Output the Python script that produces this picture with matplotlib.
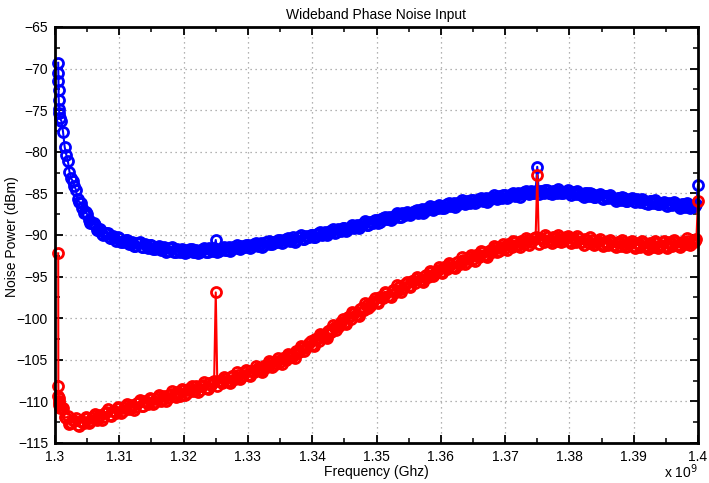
import numpy as np
import matplotlib
matplotlib.use("Agg")
import matplotlib.pyplot as plt
from matplotlib.ticker import MultipleLocator, FuncFormatter

# ---- data (frequency in units of 1e9 Hz, power in dBm) ----
freq_head = [1.30050, 1.30052, 1.30054, 1.30056, 1.30058, 1.30062, 1.30066, 1.30070]
freq_grid = np.round(1.3010 + 0.0005 * np.arange(199), 5)       # 1.3010 ... 1.4000
freq_mid = np.round(freq_grid[:-1] + 0.00025, 5)                 # samples between grid points

blue_head = [-69.3, -70.5, -71.5, -72.6, -73.8, -74.8, -75.3, -75.9]
blue_grid = [
    -76.3, -79.4, -81.1, -83.2, -84.1, -85.7, -86.1, -87.4, -87.5, -88.5,
    -88.6, -89.4, -89.3, -90.0, -89.8, -90.4, -90.1, -90.7, -90.4, -90.9,
    -90.6, -91.1, -90.8, -91.3, -91.0, -91.4, -91.1, -91.6, -91.2, -91.7,
    -91.4, -91.8, -91.5, -91.9, -91.6, -92.0, -91.7, -92.1, -91.8, -92.0,
    -91.7, -92.1, -91.8, -92.0, -91.7, -92.0, -91.6, -91.9, -90.6, -91.9,
    -91.6, -91.8, -91.5, -91.7, -91.4, -91.6, -91.3, -91.5, -91.2, -91.4,
    -91.1, -91.3, -91.0, -91.2, -90.8, -91.1, -90.8, -90.9, -90.6, -90.9,
    -90.5, -90.7, -90.3, -90.6, -90.3, -90.5, -90.1, -90.3, -90.0, -90.2,
    -89.8, -90.0, -89.6, -89.8, -89.5, -89.7, -89.3, -89.5, -89.2, -89.3,
    -89.0, -89.2, -88.8, -88.9, -88.6, -88.8, -88.4, -88.5, -88.2, -88.4,
    -88.0, -88.1, -87.8, -88.0, -87.6, -87.8, -87.4, -87.6, -87.3, -87.4,
    -87.1, -87.3, -86.9, -87.1, -86.8, -86.9, -86.6, -86.8, -86.5, -86.7,
    -86.3, -86.5, -86.2, -86.4, -86.0, -86.2, -85.9, -86.1, -85.8, -86.0,
    -85.7, -85.9, -85.6, -85.8, -85.4, -85.6, -85.3, -85.5, -85.2, -85.4,
    -85.1, -85.3, -84.9, -85.1, -84.8, -85.0, -84.7, -84.9, -81.8, -84.7,
    -84.9, -84.6, -84.9, -84.7, -85.0, -84.7, -84.9, -84.8, -85.0, -84.8,
    -85.1, -84.9, -85.2, -85.0, -85.3, -85.1, -85.4, -85.2, -85.5, -85.3,
    -85.6, -85.4, -85.7, -85.5, -85.8, -85.6, -85.9, -85.7, -85.9, -85.7,
    -86.0, -85.8, -86.1, -85.9, -86.2, -86.0, -86.3, -86.1, -86.4, -86.2,
    -86.4, -86.2, -86.5, -86.3, -86.6, -86.4, -86.6, -86.5, -84.0,
]
blue_mid = [
    -77.6, -80.35, -82.4, -83.5, -84.55, -86.05, -86.7, -87.2, -88.25, -88.5,
    -88.75, -89.45, -89.9, -89.8, -89.8, -90.4, -90.4, -90.3, -90.9, -90.7,
    -90.6, -91.05, -91.35, -91.0, -90.9, -91.45, -91.3, -91.2, -91.7, -91.45,
    -91.35, -91.7, -92.0, -91.6, -91.5, -92.0, -91.9, -91.7, -92.15, -91.85,
    -91.65, -92.0, -92.2, -91.8, -91.55, -92.0, -91.8, -91.6, -92.05, -91.65,
    -91.45, -91.8, -91.9, -91.5, -91.2, -91.7, -91.4, -91.15, -91.55, -91.15,
    -90.95, -91.2, -91.4, -90.9, -90.7, -91.1, -90.85, -90.6, -90.95, -90.6,
    -90.35, -90.6, -90.8, -90.3, -90.05, -90.5, -90.2, -89.95, -90.3, -89.9,
    -89.65, -89.9, -90.0, -89.55, -89.25, -89.65, -89.4, -89.1, -89.5, -89.1,
    -88.8, -89.05, -89.15, -88.65, -88.35, -88.75, -88.45, -88.15, -88.5, -88.1,
    -87.8, -88.05, -88.15, -87.7, -87.4, -87.8, -87.5, -87.25, -87.6, -87.2,
    -86.95, -87.2, -87.3, -86.85, -86.55, -87.0, -86.7, -86.45, -86.8, -86.45,
    -86.15, -86.45, -86.6, -86.1, -85.8, -86.25, -86.0, -85.75, -86.15, -85.75,
    -85.55, -85.8, -86.0, -85.5, -85.25, -85.7, -85.4, -85.15, -85.55, -85.15,
    -84.95, -85.2, -85.4, -84.9, -84.7, -85.1, -84.9, -84.7, -85.1, -84.75,
    -84.55, -84.9, -85.1, -84.7, -84.5, -85.0, -84.85, -84.65, -85.15, -84.9,
    -84.75, -85.2, -85.4, -85.0, -84.9, -85.4, -85.3, -85.1, -85.65, -85.35,
    -85.25, -85.6, -85.9, -85.5, -85.4, -85.9, -85.8, -85.6, -86.05, -85.85,
    -85.65, -86.1, -86.3, -85.9, -85.8, -86.3, -86.2, -86.0, -86.5, -86.25,
    -86.05, -86.45, -86.7, -86.3, -86.15, -86.7, -86.5, -86.3,
]

red_head = [-92.2, -108.1, -109.3, -110.0, -109.6, -110.4, -110.2, -110.8]
red_grid = [
    -110.7, -111.9, -111.8, -112.6, -112.3, -112.8, -112.4, -112.6, -112.0, -112.3,
    -111.8, -112.2, -111.6, -111.9, -111.3, -111.6, -111.1, -111.4, -110.8, -111.2,
    -110.5, -110.9, -110.4, -110.7, -110.1, -110.5, -109.9, -110.3, -109.7, -110.1,
    -109.5, -109.9, -109.3, -109.6, -109.1, -109.4, -108.9, -109.3, -108.6, -109.0,
    -108.4, -108.8, -108.2, -108.6, -108.0, -108.4, -107.8, -107.7, -96.9, -107.6,
    -107.8, -107.3, -107.6, -107.0, -107.3, -106.8, -107.1, -106.5, -106.8, -106.3,
    -106.5, -106.0, -106.2, -105.7, -105.9, -105.4, -105.6, -105.1, -105.3, -104.8,
    -105.0, -104.4, -104.6, -103.9, -104.1, -103.5, -103.6, -103.0, -103.2, -102.5,
    -102.7, -102.0, -102.2, -101.5, -101.6, -101.0, -101.1, -100.5, -100.6, -99.9,
    -100.1, -99.4, -99.6, -98.9, -99.0, -98.4, -98.5, -97.9, -98.0, -97.4,
    -97.6, -97.0, -97.3, -96.6, -96.9, -96.3, -96.5, -95.9, -96.1, -95.5,
    -95.8, -95.2, -95.4, -94.9, -95.1, -94.5, -94.7, -94.2, -94.4, -93.8,
    -94.1, -93.6, -93.8, -93.3, -93.5, -93.0, -93.2, -92.7, -92.9, -92.4,
    -92.6, -92.1, -92.4, -91.9, -92.1, -91.6, -91.9, -91.4, -91.6, -91.1,
    -91.4, -90.9, -91.2, -90.7, -91.1, -90.6, -90.9, -90.4, -82.8, -90.4,
    -90.8, -90.3, -90.7, -90.2, -90.7, -90.3, -90.7, -90.3, -90.7, -90.4,
    -90.8, -90.4, -90.9, -90.5, -91.0, -90.6, -91.1, -90.7, -91.1, -90.8,
    -91.2, -90.8, -91.2, -90.8, -91.3, -90.9, -91.3, -90.9, -91.3, -91.0,
    -91.4, -91.0, -91.4, -91.0, -91.4, -91.0, -91.3, -90.9, -91.3, -90.9,
    -91.3, -90.9, -91.2, -90.8, -91.1, -90.7, -91.0, -90.7, -85.9,
]
red_mid = [
    -110.85, -111.95, -112.7, -112.25, -111.95, -112.9, -112.45, -111.9, -112.6, -112.0,
    -111.5, -111.95, -112.2, -111.4, -110.9, -111.7, -111.2, -110.7, -111.4, -110.8,
    -110.3, -110.75, -111.0, -110.25, -109.8, -110.5, -110.05, -109.55, -110.3, -109.7,
    -109.2, -109.7, -109.95, -109.2, -108.7, -109.5, -109.05, -108.5, -109.25, -108.6,
    -108.15, -108.65, -108.9, -108.15, -107.7, -108.5, -108.0, -107.5, -108.2, -107.6,
    -107.1, -107.55, -107.8, -107.0, -106.5, -107.3, -106.8, -106.2, -106.95, -106.3,
    -105.75, -106.25, -106.45, -105.65, -105.2, -105.9, -105.4, -104.8, -105.55, -104.8,
    -104.25, -104.65, -104.75, -103.9, -103.3, -103.95, -103.35, -102.7, -103.3, -102.5,
    -101.9, -102.25, -102.35, -101.4, -100.8, -101.45, -100.8, -100.15, -100.7, -99.9,
    -99.3, -99.65, -99.75, -98.8, -98.2, -98.8, -98.2, -97.55, -98.15, -97.4,
    -96.85, -97.3, -97.45, -96.6, -96.05, -96.8, -96.2, -95.6, -96.25, -95.55,
    -95.05, -95.45, -95.65, -94.8, -94.3, -94.95, -94.45, -93.9, -94.55, -93.85,
    -93.35, -93.85, -94.0, -93.25, -92.7, -93.45, -92.9, -92.4, -93.1, -92.4,
    -91.95, -92.4, -92.6, -91.85, -91.35, -92.05, -91.6, -91.05, -91.8, -91.15,
    -90.7, -91.2, -91.5, -90.75, -90.35, -91.15, -90.7, -90.25, -91.05, -90.45,
    -90.05, -90.65, -91.0, -90.3, -89.95, -90.85, -90.5, -90.1, -90.95, -90.5,
    -90.15, -90.85, -91.2, -90.65, -90.3, -91.15, -90.9, -90.5, -91.35, -90.85,
    -90.55, -91.15, -91.5, -90.9, -90.6, -91.45, -91.1, -90.7, -91.55, -91.05,
    -90.75, -91.35, -91.7, -91.05, -90.7, -91.55, -91.2, -90.75, -91.55, -91.0,
    -90.65, -91.15, -91.5, -90.85, -90.4, -91.25, -90.9, -90.5,
]

title = "Wideband Phase Noise Input"
xlabel = "Frequency (Ghz)"
ylabel = "Noise Power (dBm)"


def assemble(head, grid, mid):
    f = np.concatenate([freq_head, freq_grid, freq_mid])
    v = np.concatenate([head, grid, mid])
    order = np.argsort(f, kind='stable')
    return f[order], v[order]


fb, vb = assemble(blue_head, blue_grid, blue_mid)
fr, vr = assemble(red_head, red_grid, red_mid)

# ---- style ----
plt.rcParams['font.family'] = ['Liberation Sans', 'DejaVu Sans']
plt.rcParams['font.size'] = 10

fig = plt.figure(figsize=(7.09, 4.83), dpi=100)
ax = fig.add_axes([55/709, 1 - 443/483, (698-55)/709, (443-27)/483])

mk = dict(marker='o', markersize=7.2, markerfacecolor='none', markeredgewidth=2.0,
          linewidth=1.5, clip_on=False)
ax.plot(fb, vb, color='#0000ff', markeredgecolor='#0000ff', **mk, zorder=3)
ax.plot(fr, vr, color='#ff0000', markeredgecolor='#ff0000', **mk, zorder=4)

ax.set_xlim(1.3, 1.4)
ax.set_ylim(-115, -65)
ax.xaxis.set_major_locator(MultipleLocator(0.01))
ax.xaxis.set_minor_locator(MultipleLocator(0.005))
ax.yaxis.set_major_locator(MultipleLocator(5))
ax.yaxis.set_minor_locator(MultipleLocator(2.5))
ax.xaxis.set_major_formatter(FuncFormatter(lambda v, p: ('%.2f' % v).rstrip('0').rstrip('.')))
ax.yaxis.set_major_formatter(FuncFormatter(lambda v, p: ('%d' % round(v)).replace('-', '\u2212')))

ax.tick_params(which='both', direction='in', top=True, right=True, colors='black',
               labelsize=10, pad=5)
ax.tick_params(which='major', length=6, width=1.3)
ax.tick_params(which='minor', length=3.5, width=1.1)
for s in ax.spines.values():
    s.set_linewidth(2.0)
    s.set_zorder(5)

ax.grid(True, which='major', linestyle=(0, (1, 3)), color='#9a9a9a', linewidth=0.9)
ax.set_axisbelow(True)

ax.set_title(title, fontsize=10, pad=6)
ax.set_xlabel(xlabel, fontsize=10, labelpad=1)
fig.text(12/709, 1 - 237/483, ylabel, rotation=90, ha='center', va='center', fontsize=10)
fig.text(698/709, 1 - 478/483, 'x 10$^{9}$', ha='right', va='baseline', fontsize=10)

fig.savefig('out.png', dpi=100)
